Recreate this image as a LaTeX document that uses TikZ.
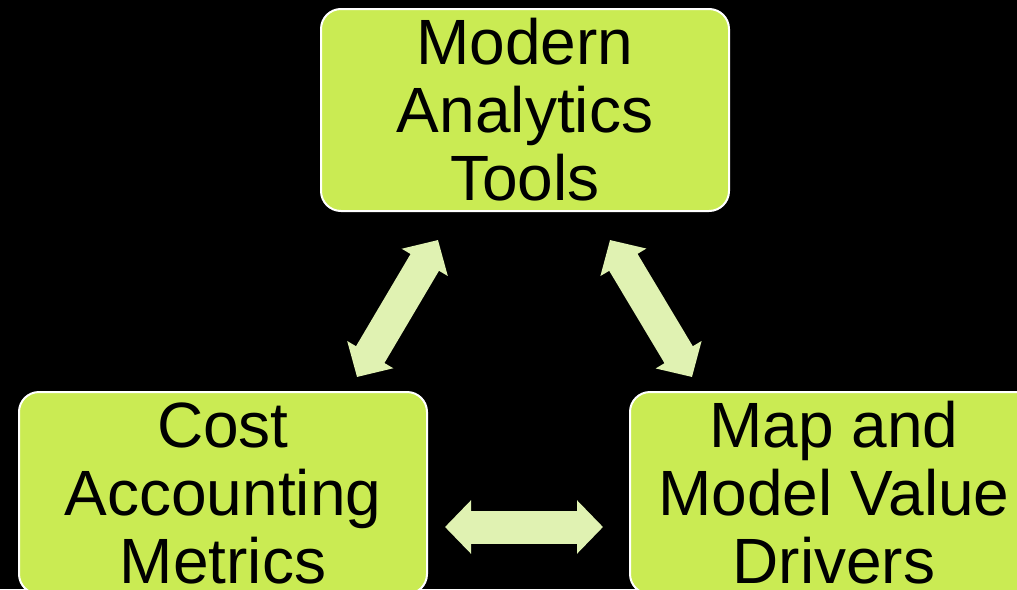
\documentclass[tikz,border=0pt]{standalone}
\usepackage{fontspec}
\setmainfont{Liberation Sans}
\usepackage{xcolor}
\usepackage{tikz}
\usetikzlibrary{arrows.meta}
\usetikzlibrary{backgrounds,positioning}
\pgfdeclarelayer{edgelayer}
\pgfdeclarelayer{nodelayer}
\pgfsetlayers{background,edgelayer,nodelayer,main}
\definecolor{boxgreen}{RGB}{202,235,83}
\definecolor{arrowgreen}{RGB}{224,242,178}
\tikzstyle{every picture}=[x=1pt,y=-1pt]
\tikzstyle{box}=[draw=white,line width=2pt,fill=boxgreen,rounded corners=20pt,minimum width=408pt,minimum height=202pt,align=center,font=\fontsize{64pt}{68pt}\selectfont,text=black]
\tikzstyle{fat}=[draw=arrowgreen,line width=33pt,{Triangle[length=26pt 0,width=52pt 0]}-{Triangle[length=26pt 0,width=52pt 0]}]

\begin{document}
\begin{tikzpicture}
	\useasboundingbox (0,0) rectangle (1017,589);
	\begin{pgfonlayer}{background}
		\fill[black] (0,0) rectangle (1017,589);
	\end{pgfonlayer}
	\begin{pgfonlayer}{nodelayer}
		\node [style=box] (tools) at (525, 110) {Modern\\Analytics\\Tools};
		\node [style=box] (cost) at (223, 493) {Cost\\Accounting\\Metrics};
		\node [style=box] (drivers) at (834, 493) {Map and\\Model Value\\Drivers};
	\end{pgfonlayer}
	\coordinate (ct) at (438, 240);
	\coordinate (cb) at (357, 377);
	\coordinate (dt) at (610, 240);
	\coordinate (db) at (692, 377);
	\coordinate (cr) at (445, 527);
	\coordinate (dl) at (603, 527);
	\begin{pgfonlayer}{edgelayer}
		\draw[style=fat] (cb) -- (ct);
		\draw[style=fat] (dt) -- (db);
		\draw[style=fat] (cr) -- (dl);
	\end{pgfonlayer}
\end{tikzpicture}
\end{document}
